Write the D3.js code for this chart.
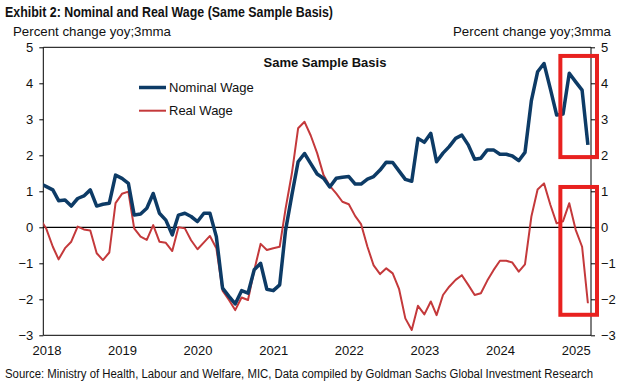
<!DOCTYPE html>
<html><head><meta charset="utf-8">
<script src="https://cdn.jsdelivr.net/npm/d3@7"></script>
<style>
html,body{margin:0;padding:0;background:#fff;}
svg{display:block;font-family:"Liberation Sans",Arial,sans-serif;}
</style></head>
<body>
<script>
// ---- data ----
const startMonth = new Date(2017, 11, 1);
const endMonth = new Date(2025, 3, 1);
const months = d3.timeMonth.range(startMonth, endMonth); // Dec 2017 .. Mar 2025
const nominalWage = [1.22,
  1.13,1.04,0.74,0.76,0.59,0.80,0.87,1.04,0.59,0.64,0.67,1.45,
  1.36,1.22,0.34,0.37,0.53,0.94,0.39,0.20,-0.21,0.34,0.39,0.30,
  0.16,0.39,0.39,-0.26,-1.69,-1.92,-2.13,-1.76,-1.83,-1.18,-1.00,-1.72,
  -1.76,-1.60,-0.10,0.90,1.82,2.05,1.77,1.48,1.36,1.12,1.36,1.39,
  1.41,1.20,1.20,1.34,1.41,1.59,1.81,1.80,1.56,1.33,1.28,2.47,
  2.36,2.61,1.82,2.06,2.24,2.47,2.56,2.29,1.89,1.92,2.15,2.15,
  2.03,2.03,1.98,1.85,2.08,3.52,4.32,4.55,3.84,3.12,3.15,4.28,
  4.04,3.81,2.29];
const realWage = [0.25,
  -0.05,-0.54,-0.89,-0.58,-0.40,0.02,-0.06,-0.09,-0.72,-0.91,-0.70,0.67,
  0.93,0.99,-0.03,-0.26,-0.35,0.06,-0.40,-0.43,-0.66,0.00,-0.03,-0.36,
  -0.61,-0.42,-0.24,-0.58,-1.76,-2.02,-2.30,-1.95,-2.02,-1.19,-0.46,-0.63,
  -0.58,-0.54,0.50,1.50,2.75,2.93,2.55,2.06,1.45,1.15,0.94,0.71,
  0.64,0.31,0.09,-0.54,-1.06,-1.30,-1.14,-1.28,-1.72,-2.53,-2.85,-2.18,
  -2.42,-2.06,-2.44,-1.88,-1.65,-1.46,-1.33,-1.60,-1.88,-1.83,-1.48,-1.19,
  -0.93,-0.93,-0.98,-1.23,-1.03,0.30,1.05,1.22,0.62,0.11,0.17,0.67,
  -0.07,-0.54,-2.11];
const yTicks = [-3,-2,-1,0,1,2,3,4,5];
const yearTicks = [2018,2019,2020,2021,2022,2023,2024,2025];
const seriesNames = ["Nominal Wage","Real Wage"];
const titleText = "Exhibit 2: Nominal and Real Wage (Same Sample Basis)";
const axisTitle = "Percent change yoy;3mma";
const innerTitle = "Same Sample Basis";
const sourceText = "Source: Ministry of Health, Labour and Welfare, MIC, Data compiled by Goldman Sachs Global Investment Research";
// highlight boxes: [startDate, endDate, top value, bottom value]
const highlightBoxes = [
  [new Date(2024, 9, 19), new Date(2025, 3, 14), 4.76, 1.95],
  [new Date(2024, 9, 19), new Date(2025, 3, 14), 1.12, -2.43]
];

// ---- layout ----
const W = 640, H = 384;
const L = 43.3, R = 591, T = 47.3, B = 335.3;
const navy = "#0d3b66", red = "#c4393b", boxRed = "#e8211f";

const svg = d3.select("body").append("svg").attr("width", W).attr("height", H);

const x = d3.scaleTime().domain([new Date(2017, 11, 17), new Date(2025, 2, 16)]).range([L, R]);
const y = d3.scaleLinear().domain([-3, 5]).range([B, T]);

svg.append("defs").append("clipPath").attr("id", "clip")
  .append("rect").attr("x", L).attr("y", T - 5).attr("width", R - L).attr("height", B - T + 10);

// titles
svg.append("text").attr("x", 5).attr("y", 17).attr("font-size", 14).attr("font-weight", "bold")
  .attr("fill", "#111").attr("textLength", 328).attr("lengthAdjust", "spacingAndGlyphs").text(titleText);
svg.append("text").attr("x", 13).attr("y", 36).attr("font-size", 13).attr("fill", "#111")
  .attr("textLength", 158).attr("lengthAdjust", "spacingAndGlyphs").text(axisTitle);
svg.append("text").attr("x", 453).attr("y", 36).attr("font-size", 13).attr("fill", "#111")
  .attr("textLength", 158).attr("lengthAdjust", "spacingAndGlyphs").text(axisTitle);

// frame
svg.append("line").attr("x1", L).attr("x2", R).attr("y1", T).attr("y2", T).attr("stroke", "#000");

// axes
const yLeft = d3.axisLeft(y).tickValues(yTicks).tickSize(4).tickPadding(6).tickFormat(d3.format("d"));
const gL = svg.append("g").attr("transform", `translate(${L},0)`).call(yLeft);
const yRight = d3.axisRight(y).tickValues(yTicks).tickSize(4).tickPadding(6).tickFormat(d3.format("d"));
const gR = svg.append("g").attr("transform", `translate(${R},0)`).call(yRight);
[gL, gR].forEach(g => {
  g.select(".domain").remove();
  g.selectAll(".tick line").attr("stroke", "#000");
  g.selectAll(".tick text").attr("font-size", 13).attr("fill", "#111")
    .attr("font-family", "'Liberation Sans',Arial,sans-serif");
});
svg.append("line").attr("x1", L).attr("x2", L).attr("y1", T).attr("y2", B).attr("stroke", "#000");
svg.append("line").attr("x1", R).attr("x2", R).attr("y1", T).attr("y2", B).attr("stroke", "#000");

const xAxis = d3.axisBottom(x).tickValues(yearTicks.map(yr => new Date(yr, 0, 1)))
  .tickSize(0).tickPadding(10).tickFormat(d3.timeFormat("%Y"));
const gX = svg.append("g").attr("transform", `translate(0,${B})`).call(xAxis);
gX.select(".domain").remove();
gX.selectAll(".tick text").attr("font-size", 13).attr("fill", "#111")
  .attr("font-family", "'Liberation Sans',Arial,sans-serif");
svg.append("line").attr("x1", L).attr("x2", R).attr("y1", B).attr("y2", B).attr("stroke", "#000");

// zero line
svg.append("line").attr("x1", L).attr("x2", R).attr("y1", y(0)).attr("y2", y(0))
  .attr("stroke", "#000").attr("stroke-width", 1.2);

// lines
const line = vals => d3.line().x((d, i) => x(months[i])).y(d => y(d))(vals);
const gLines = svg.append("g").attr("clip-path", "url(#clip)");
gLines.append("path").attr("d", line(realWage)).attr("fill", "none")
  .attr("stroke", red).attr("stroke-width", 2).attr("stroke-linejoin", "round");
gLines.append("path").attr("d", line(nominalWage)).attr("fill", "none")
  .attr("stroke", navy).attr("stroke-width", 3.5).attr("stroke-linejoin", "round");

// inner title
svg.append("text").attr("x", 325).attr("y", 67).attr("text-anchor", "middle")
  .attr("font-size", 13).attr("font-weight", "bold").attr("fill", "#111").text(innerTitle);

// legend
const legend = [
  {name: seriesNames[0], color: navy, w: 3.5, y: 87.5},
  {name: seriesNames[1], color: red, w: 2, y: 110.7}
];
legend.forEach(l => {
  svg.append("line").attr("x1", 139).attr("x2", 166).attr("y1", l.y).attr("y2", l.y)
    .attr("stroke", l.color).attr("stroke-width", l.w);
  svg.append("text").attr("x", 169).attr("y", l.y + 4.6).attr("font-size", 13)
    .attr("fill", "#111").text(l.name);
});

// highlight boxes
highlightBoxes.forEach(b => {
  svg.append("rect").attr("x", x(b[0])).attr("y", y(b[2]))
    .attr("width", x(b[1]) - x(b[0])).attr("height", y(b[3]) - y(b[2]))
    .attr("fill", "none").attr("stroke", boxRed).attr("stroke-width", 4);
});

// source
svg.append("text").attr("x", 5).attr("y", 378).attr("font-size", 12).attr("fill", "#111")
  .attr("textLength", 588).attr("lengthAdjust", "spacingAndGlyphs").text(sourceText);
</script>
</body></html>
